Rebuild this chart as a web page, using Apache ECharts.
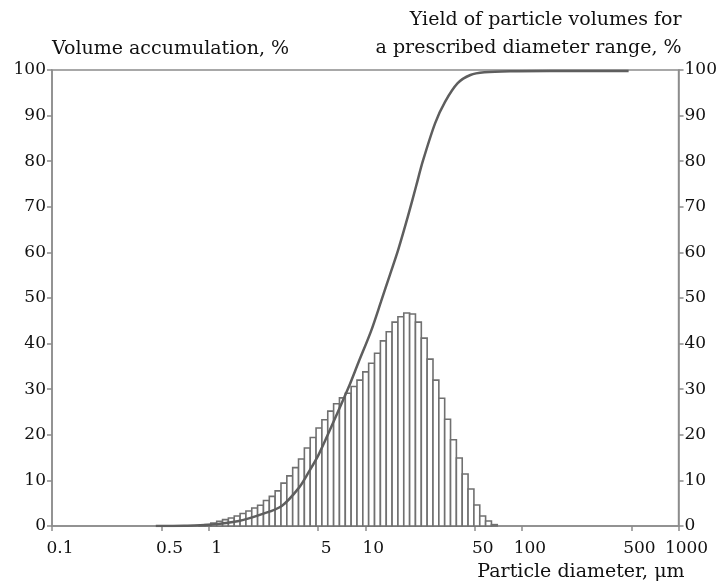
<!DOCTYPE html>
<html>
<head>
<meta charset="utf-8">
<script src="https://cdn.jsdelivr.net/npm/echarts@6/dist/echarts.min.js"></script>
<style>
  html, body { margin: 0; padding: 0; background: #fff; }
  #main { width: 720px; height: 582px; }
</style>
</head>
<body>
<div id="main"></div>
<script>
// bin edges of the histogram, um (log-spaced)
const binEdges = [0.87, 0.948, 1.033, 1.126, 1.227, 1.337, 1.457, 1.588, 1.730, 1.885,
  2.054, 2.239, 2.440, 2.658, 2.897, 3.157, 3.440, 3.749, 4.085, 4.452,
  4.851, 5.286, 5.761, 6.278, 6.841, 7.455, 8.124, 8.853, 9.647, 10.51,
  11.46, 12.49, 13.61, 14.83, 16.16, 17.61, 19.19, 20.91, 22.79, 24.83,
  27.06, 29.49, 32.13, 35.02, 38.16, 41.58, 45.31, 49.38, 53.81, 58.64,
  63.90, 69.6];

// yield per bin, %
const binYield = [0.1, 0.3, 0.65, 1.05, 1.4, 1.75, 2.2, 2.75, 3.3, 3.95,
  4.55, 5.6, 6.5, 7.7, 9.4, 11.0, 12.8, 14.7, 17.1, 19.4,
  21.5, 23.3, 25.2, 26.8, 28.1, 29.1, 30.6, 32.0, 33.8, 35.7,
  37.9, 40.6, 42.6, 44.7, 45.9, 46.7, 46.5, 44.7, 41.2, 36.6,
  32.0, 28.0, 23.4, 18.9, 14.9, 11.4, 8.1, 4.6, 2.2, 1.1,
  0.3];

// cumulative curve
const cumDiameter = [0.46, 0.7, 1.0, 1.56, 2.19, 2.93, 3.755, 4.35, 5.03, 6.08,
  7.8, 9.03, 10.9, 12.6, 14.4, 16.2, 18.75, 21.1, 23.3, 27.9,
  32.3, 38.9, 46.9, 57.6, 84, 150, 480];
const cumVolume = [0, 0.05, 0.25, 1.1, 2.6, 4.4, 8.3, 11.8, 15.6, 21.8,
  30.3, 35.8, 42.8, 49.2, 55.2, 60.5, 68, 74.5, 80, 88.3,
  93, 97.1, 98.9, 99.5, 99.75, 99.8, 99.8];

const xTicks = [0.1, 0.5, 1, 5, 10, 50, 100, 500, 1000];

const grey = '#8c8c8c';
const font = 'DejaVu Serif';

const chart = echarts.init(document.getElementById('main'));

const bars = binYield.map((v, i) => [binEdges[i], binEdges[i + 1], v]);
const curve = cumDiameter.map((d, i) => [d, cumVolume[i]]);

const yAxisBase = {
  type: 'value',
  min: 0,
  max: 100,
  interval: 10,
  nameLocation: 'end',
  axisLine: { show: true, lineStyle: { color: grey, width: 1.5 } },
  axisTick: { show: true, length: 5, lineStyle: { color: grey, width: 1.5 } },
  splitLine: { show: false },
  axisLabel: { color: '#111', fontFamily: font, fontSize: 17, margin: 6 }
};

const option = {
  animation: false,
  grid: {
    left: 52, right: 38, top: 70, bottom: 56,
    show: true, borderColor: grey, borderWidth: 1.5
  },
  xAxis: {
    type: 'log',
    min: 0.1,
    max: 1000,
    name: 'Particle diameter, μm',
    nameLocation: 'end',
    nameGap: 0,
    nameTextStyle: {
      color: '#111', fontFamily: font, fontSize: 19,
      align: 'right', verticalAlign: 'top', padding: [37, -6, 0, 0]
    },
    axisLine: { lineStyle: { color: grey, width: 1.5 } },
    axisTick: { length: 5, lineStyle: { color: grey, width: 1.5 }, customValues: xTicks },
    axisLabel: {
      color: '#111', fontFamily: font, fontSize: 17, margin: 14,
      padding: [0, 0, 0, 16], customValues: xTicks,
      formatter: v => String(v)
    },
    splitLine: { show: false },
    minorTick: { show: false }
  },
  yAxis: [
    Object.assign({}, yAxisBase, {
      position: 'left',
      name: 'Volume accumulation, %',
      nameGap: 11,
      nameTextStyle: { color: '#111', fontFamily: font, fontSize: 19, align: 'left' }
    }),
    Object.assign({}, yAxisBase, {
      position: 'right',
      name: 'Yield of particle volumes for\na prescribed diameter range, %',
      nameGap: 7,
      nameTextStyle: {
        color: '#111', fontFamily: font, fontSize: 19, align: 'right',
        lineHeight: 28, padding: [0, -3, 0, 0]
      }
    })
  ],
  series: [
    {
      type: 'custom',
      yAxisIndex: 1,
      data: bars,
      encode: { x: [0, 1], y: 2 },
      renderItem: function (params, api) {
        const p0 = api.coord([api.value(0), api.value(2)]);
        const p1 = api.coord([api.value(1), 0]);
        return {
          type: 'rect',
          shape: { x: p0[0], y: p0[1], width: p1[0] - p0[0], height: p1[1] - p0[1] },
          style: { fill: '#fff', stroke: '#707070', lineWidth: 1.6 }
        };
      },
      z: 2
    },
    {
      type: 'line',
      yAxisIndex: 0,
      data: curve,
      smooth: 0.3,
      symbol: 'none',
      lineStyle: { color: '#5e5e5e', width: 2.5 },
      z: 3
    }
  ]
};

chart.setOption(option);
</script>
</body>
</html>
